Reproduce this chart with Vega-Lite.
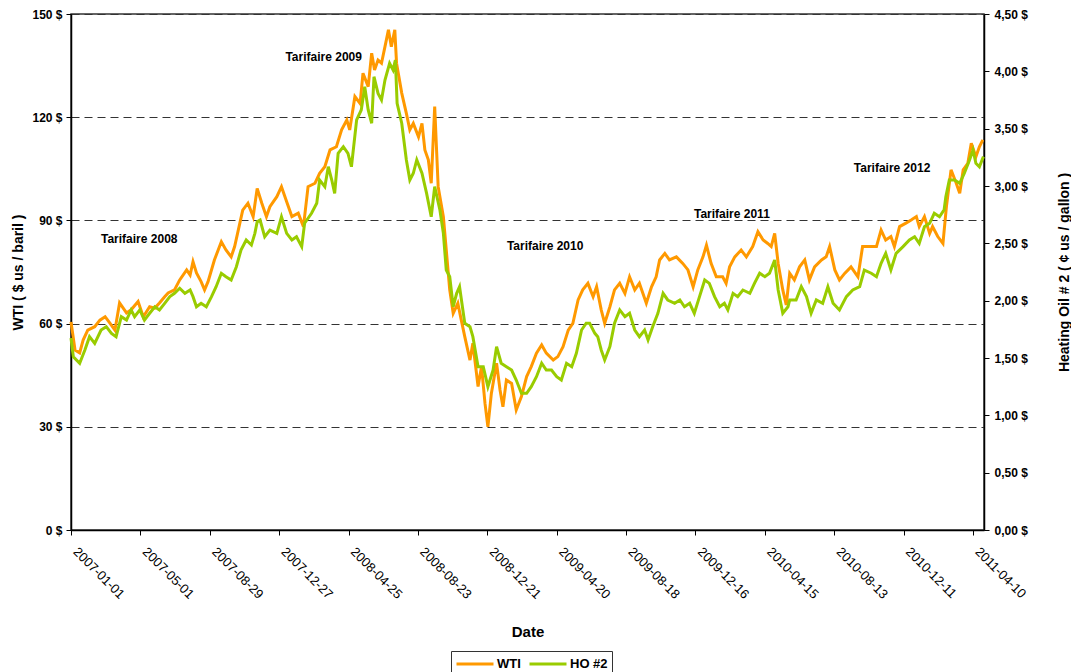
{
  "$schema": "https://vega.github.io/schema/vega-lite/v6.json",
  "width": 913,
  "height": 516,
  "autosize": "none",
  "padding": {"left": 71, "top": 14, "right": 87, "bottom": 142},
  "background": "white",
  "config": {
    "font": "Liberation Sans",
    "view": {"stroke": "#333333", "strokeWidth": 1.5}
  },
  "datasets": {
    "wti": [
      {"d":"2007-01-01","v":60.5},{"d":"2007-01-08","v":52.3},{"d":"2007-01-16","v":51.5},{"d":"2007-01-22","v":55.2},{"d":"2007-01-30","v":58.1},
      {"d":"2007-02-11","v":59.1},{"d":"2007-02-20","v":61.0},{"d":"2007-03-01","v":62.0},{"d":"2007-03-09","v":60.2},{"d":"2007-03-18","v":58.1},
      {"d":"2007-03-26","v":66.0},{"d":"2007-04-07","v":63.1},{"d":"2007-04-15","v":64.0},{"d":"2007-04-27","v":66.4},{"d":"2007-05-06","v":62.0},
      {"d":"2007-05-17","v":64.9},{"d":"2007-05-26","v":64.5},{"d":"2007-06-03","v":66.0},{"d":"2007-06-12","v":67.8},{"d":"2007-06-18","v":68.9},
      {"d":"2007-06-29","v":69.8},{"d":"2007-07-08","v":72.7},{"d":"2007-07-20","v":75.6},{"d":"2007-07-26","v":74.1},{"d":"2007-07-31","v":78.0},
      {"d":"2007-08-06","v":74.7},{"d":"2007-08-14","v":72.2},{"d":"2007-08-20","v":69.8},{"d":"2007-08-26","v":72.2},{"d":"2007-09-06","v":78.5},
      {"d":"2007-09-18","v":83.8},{"d":"2007-09-26","v":81.4},{"d":"2007-10-05","v":79.4},{"d":"2007-10-11","v":82.4},{"d":"2007-10-20","v":89.2},
      {"d":"2007-10-25","v":93.0},{"d":"2007-11-03","v":95.0},{"d":"2007-11-12","v":91.1},{"d":"2007-11-19","v":99.3},{"d":"2007-11-27","v":95.0},
      {"d":"2007-12-05","v":91.1},{"d":"2007-12-11","v":94.0},{"d":"2007-12-23","v":96.9},{"d":"2007-12-31","v":99.8},{"d":"2008-01-09","v":95.4},
      {"d":"2008-01-18","v":91.1},{"d":"2008-01-29","v":92.1},{"d":"2008-02-07","v":88.2},{"d":"2008-02-15","v":99.8},{"d":"2008-02-27","v":100.8},
      {"d":"2008-03-06","v":103.7},{"d":"2008-03-15","v":105.6},{"d":"2008-03-24","v":110.5},{"d":"2008-04-04","v":111.4},{"d":"2008-04-13","v":116.3},
      {"d":"2008-04-22","v":119.2},{"d":"2008-04-27","v":116.3},{"d":"2008-05-06","v":126.0},{"d":"2008-05-15","v":124.0},{"d":"2008-05-20","v":132.8},
      {"d":"2008-05-29","v":128.9},{"d":"2008-06-04","v":138.6},{"d":"2008-06-09","v":133.7},{"d":"2008-06-15","v":136.6},{"d":"2008-06-21","v":135.7},
      {"d":"2008-06-27","v":140.5},{"d":"2008-07-03","v":145.4},{"d":"2008-07-08","v":140.5},{"d":"2008-07-14","v":145.4},{"d":"2008-07-17","v":135.7},
      {"d":"2008-07-26","v":127.0},{"d":"2008-08-03","v":121.1},{"d":"2008-08-09","v":116.3},{"d":"2008-08-15","v":118.2},{"d":"2008-08-24","v":114.3},
      {"d":"2008-08-30","v":118.2},{"d":"2008-09-04","v":110.5},{"d":"2008-09-10","v":107.6},{"d":"2008-09-15","v":100.8},{"d":"2008-09-21","v":123.1},
      {"d":"2008-09-24","v":111.4},{"d":"2008-09-27","v":99.8},{"d":"2008-10-06","v":91.1},{"d":"2008-10-11","v":81.4},{"d":"2008-10-17","v":69.8},
      {"d":"2008-10-23","v":63.0},{"d":"2008-10-31","v":65.9},{"d":"2008-11-06","v":61.0},{"d":"2008-11-12","v":56.2},{"d":"2008-11-21","v":49.4},
      {"d":"2008-11-26","v":54.3},{"d":"2008-12-05","v":41.7},{"d":"2008-12-11","v":47.5},{"d":"2008-12-17","v":36.8},{"d":"2008-12-22","v":30.0},
      {"d":"2008-12-28","v":39.7},{"d":"2009-01-06","v":48.5},{"d":"2009-01-12","v":40.7},{"d":"2009-01-17","v":35.8},{"d":"2009-01-23","v":43.6},
      {"d":"2009-02-01","v":42.6},{"d":"2009-02-09","v":34.9},{"d":"2009-02-18","v":38.8},{"d":"2009-02-27","v":44.6},{"d":"2009-03-07","v":47.5},
      {"d":"2009-03-16","v":51.4},{"d":"2009-03-25","v":53.8},{"d":"2009-04-02","v":51.4},{"d":"2009-04-14","v":49.4},{"d":"2009-04-22","v":50.4},
      {"d":"2009-05-01","v":53.3},{"d":"2009-05-10","v":58.1},{"d":"2009-05-18","v":60.1},{"d":"2009-05-27","v":66.9},{"d":"2009-06-04","v":69.8},
      {"d":"2009-06-13","v":71.7},{"d":"2009-06-22","v":67.8},{"d":"2009-06-28","v":70.7},{"d":"2009-07-06","v":64.0},{"d":"2009-07-12","v":60.1},
      {"d":"2009-07-21","v":64.9},{"d":"2009-07-29","v":69.8},{"d":"2009-08-07","v":71.7},{"d":"2009-08-16","v":68.8},{"d":"2009-08-24","v":73.6},
      {"d":"2009-09-02","v":69.8},{"d":"2009-09-10","v":71.7},{"d":"2009-09-22","v":65.9},{"d":"2009-10-01","v":70.7},{"d":"2009-10-09","v":73.6},
      {"d":"2009-10-15","v":78.5},{"d":"2009-10-24","v":80.4},{"d":"2009-11-01","v":78.5},{"d":"2009-11-13","v":79.4},{"d":"2009-11-24","v":77.5},
      {"d":"2009-12-03","v":75.6},{"d":"2009-12-12","v":70.7},{"d":"2009-12-20","v":75.6},{"d":"2009-12-29","v":79.4},{"d":"2010-01-04","v":82.8},
      {"d":"2010-01-12","v":77.5},{"d":"2010-01-21","v":73.6},{"d":"2010-02-01","v":73.6},{"d":"2010-02-07","v":71.7},{"d":"2010-02-13","v":76.5},
      {"d":"2010-02-22","v":79.4},{"d":"2010-03-05","v":81.4},{"d":"2010-03-14","v":79.4},{"d":"2010-03-25","v":82.4},{"d":"2010-04-03","v":86.7},
      {"d":"2010-04-12","v":84.3},{"d":"2010-04-20","v":83.3},{"d":"2010-04-26","v":82.4},{"d":"2010-05-02","v":86.2},{"d":"2010-05-08","v":77.5},
      {"d":"2010-05-16","v":69.8},{"d":"2010-05-22","v":65.4},{"d":"2010-05-28","v":74.6},{"d":"2010-06-05","v":72.7},{"d":"2010-06-14","v":76.5},
      {"d":"2010-06-23","v":78.5},{"d":"2010-07-01","v":72.7},{"d":"2010-07-10","v":76.5},{"d":"2010-07-22","v":78.5},{"d":"2010-07-30","v":79.4},
      {"d":"2010-08-05","v":82.4},{"d":"2010-08-14","v":75.6},{"d":"2010-08-22","v":72.7},{"d":"2010-08-31","v":74.6},{"d":"2010-09-11","v":76.5},
      {"d":"2010-09-23","v":73.6},{"d":"2010-10-01","v":82.4},{"d":"2010-10-13","v":82.4},{"d":"2010-10-25","v":82.4},{"d":"2010-11-02","v":87.2},
      {"d":"2010-11-10","v":84.3},{"d":"2010-11-19","v":85.3},{"d":"2010-11-25","v":82.4},{"d":"2010-12-04","v":88.2},{"d":"2010-12-15","v":89.2},
      {"d":"2010-12-24","v":90.1},{"d":"2011-01-02","v":91.1},{"d":"2011-01-07","v":88.2},{"d":"2011-01-16","v":91.1},{"d":"2011-01-25","v":86.2},
      {"d":"2011-01-30","v":88.2},{"d":"2011-02-08","v":85.3},{"d":"2011-02-17","v":83.3},{"d":"2011-02-23","v":94.0},{"d":"2011-03-03","v":104.7},
      {"d":"2011-03-12","v":100.8},{"d":"2011-03-18","v":97.9},{"d":"2011-03-24","v":104.7},{"d":"2011-04-01","v":106.6},{"d":"2011-04-07","v":112.4},
      {"d":"2011-04-15","v":108.5},{"d":"2011-04-21","v":111.4},{"d":"2011-04-27","v":113.4}
    ],
    "ho": [
      {"d":"2007-01-01","v":1.674},{"d":"2007-01-05","v":1.511},{"d":"2007-01-16","v":1.454},{"d":"2007-01-25","v":1.570},{"d":"2007-02-02","v":1.686},
      {"d":"2007-02-11","v":1.628},{"d":"2007-02-22","v":1.744},{"d":"2007-03-03","v":1.773},{"d":"2007-03-12","v":1.715},{"d":"2007-03-20","v":1.686},
      {"d":"2007-03-29","v":1.860},{"d":"2007-04-07","v":1.831},{"d":"2007-04-15","v":1.919},{"d":"2007-04-21","v":1.860},{"d":"2007-04-30","v":1.919},
      {"d":"2007-05-08","v":1.831},{"d":"2007-05-17","v":1.890},{"d":"2007-05-26","v":1.947},{"d":"2007-06-03","v":1.919},{"d":"2007-06-12","v":1.977},
      {"d":"2007-06-21","v":2.035},{"d":"2007-06-29","v":2.064},{"d":"2007-07-08","v":2.108},{"d":"2007-07-17","v":2.064},{"d":"2007-07-26","v":2.093},
      {"d":"2007-07-31","v":2.035},{"d":"2007-08-06","v":1.947},{"d":"2007-08-14","v":1.977},{"d":"2007-08-23","v":1.947},{"d":"2007-09-01","v":2.035},
      {"d":"2007-09-09","v":2.122},{"d":"2007-09-18","v":2.239},{"d":"2007-09-26","v":2.209},{"d":"2007-10-05","v":2.180},{"d":"2007-10-14","v":2.296},
      {"d":"2007-10-22","v":2.442},{"d":"2007-10-31","v":2.529},{"d":"2007-11-09","v":2.485},{"d":"2007-11-15","v":2.587},{"d":"2007-11-19","v":2.689},
      {"d":"2007-11-24","v":2.703},{"d":"2007-12-02","v":2.558},{"d":"2007-12-11","v":2.616},{"d":"2007-12-23","v":2.587},{"d":"2007-12-31","v":2.732},
      {"d":"2008-01-09","v":2.587},{"d":"2008-01-18","v":2.529},{"d":"2008-01-26","v":2.558},{"d":"2008-02-04","v":2.471},{"d":"2008-02-09","v":2.675},
      {"d":"2008-02-21","v":2.762},{"d":"2008-03-01","v":2.849},{"d":"2008-03-06","v":3.052},{"d":"2008-03-15","v":2.994},{"d":"2008-03-21","v":3.168},
      {"d":"2008-03-27","v":3.052},{"d":"2008-04-01","v":2.936},{"d":"2008-04-07","v":3.285},{"d":"2008-04-16","v":3.343},{"d":"2008-04-24","v":3.285},
      {"d":"2008-04-30","v":3.168},{"d":"2008-05-09","v":3.576},{"d":"2008-05-17","v":3.663},{"d":"2008-05-23","v":3.866},{"d":"2008-05-29","v":3.663},
      {"d":"2008-06-04","v":3.547},{"d":"2008-06-08","v":3.953},{"d":"2008-06-15","v":3.808},{"d":"2008-06-21","v":3.750},{"d":"2008-06-27","v":3.924},
      {"d":"2008-07-05","v":4.070},{"d":"2008-07-11","v":4.012},{"d":"2008-07-15","v":4.099},{"d":"2008-07-18","v":3.721},{"d":"2008-07-26","v":3.547},
      {"d":"2008-08-03","v":3.227},{"d":"2008-08-09","v":3.052},{"d":"2008-08-15","v":3.111},{"d":"2008-08-21","v":3.227},{"d":"2008-08-30","v":3.111},
      {"d":"2008-09-07","v":2.936},{"d":"2008-09-15","v":2.732},{"d":"2008-09-21","v":2.994},{"d":"2008-09-30","v":2.791},{"d":"2008-10-06","v":2.587},
      {"d":"2008-10-11","v":2.267},{"d":"2008-10-17","v":2.209},{"d":"2008-10-23","v":1.947},{"d":"2008-10-29","v":2.064},{"d":"2008-11-03","v":2.122},
      {"d":"2008-11-12","v":1.803},{"d":"2008-11-21","v":1.773},{"d":"2008-11-26","v":1.686},{"d":"2008-12-05","v":1.424},{"d":"2008-12-14","v":1.424},
      {"d":"2008-12-22","v":1.250},{"d":"2008-12-31","v":1.395},{"d":"2009-01-06","v":1.599},{"d":"2009-01-14","v":1.454},{"d":"2009-01-23","v":1.424},
      {"d":"2009-02-01","v":1.395},{"d":"2009-02-09","v":1.308},{"d":"2009-02-18","v":1.192},{"d":"2009-02-27","v":1.192},{"d":"2009-03-07","v":1.250},
      {"d":"2009-03-16","v":1.337},{"d":"2009-03-25","v":1.454},{"d":"2009-04-02","v":1.395},{"d":"2009-04-11","v":1.395},{"d":"2009-04-20","v":1.337},
      {"d":"2009-04-28","v":1.308},{"d":"2009-05-07","v":1.454},{"d":"2009-05-16","v":1.424},{"d":"2009-05-24","v":1.541},{"d":"2009-06-02","v":1.744},
      {"d":"2009-06-10","v":1.803},{"d":"2009-06-16","v":1.803},{"d":"2009-06-25","v":1.715},{"d":"2009-06-30","v":1.686},{"d":"2009-07-06","v":1.570},
      {"d":"2009-07-12","v":1.483},{"d":"2009-07-21","v":1.599},{"d":"2009-07-29","v":1.803},{"d":"2009-08-07","v":1.919},{"d":"2009-08-16","v":1.860},
      {"d":"2009-08-24","v":1.890},{"d":"2009-09-02","v":1.744},{"d":"2009-09-10","v":1.686},{"d":"2009-09-19","v":1.744},{"d":"2009-09-25","v":1.657},
      {"d":"2009-10-03","v":1.773},{"d":"2009-10-12","v":1.890},{"d":"2009-10-21","v":2.064},{"d":"2009-10-29","v":2.006},{"d":"2009-11-10","v":1.977},
      {"d":"2009-11-19","v":2.006},{"d":"2009-11-27","v":1.947},{"d":"2009-12-06","v":1.977},{"d":"2009-12-14","v":1.890},{"d":"2009-12-23","v":2.035},
      {"d":"2010-01-01","v":2.180},{"d":"2010-01-09","v":2.151},{"d":"2010-01-18","v":2.035},{"d":"2010-01-27","v":1.947},{"d":"2010-02-04","v":1.977},
      {"d":"2010-02-10","v":1.919},{"d":"2010-02-19","v":2.064},{"d":"2010-02-27","v":2.035},{"d":"2010-03-08","v":2.093},{"d":"2010-03-20","v":2.064},
      {"d":"2010-03-28","v":2.151},{"d":"2010-04-06","v":2.239},{"d":"2010-04-15","v":2.209},{"d":"2010-04-23","v":2.239},{"d":"2010-05-02","v":2.355},
      {"d":"2010-05-08","v":2.093},{"d":"2010-05-16","v":1.890},{"d":"2010-05-25","v":1.947},{"d":"2010-05-28","v":2.006},{"d":"2010-06-08","v":2.006},
      {"d":"2010-06-17","v":2.122},{"d":"2010-06-26","v":2.035},{"d":"2010-07-04","v":1.890},{"d":"2010-07-13","v":2.006},{"d":"2010-07-24","v":1.977},
      {"d":"2010-08-02","v":2.122},{"d":"2010-08-11","v":1.977},{"d":"2010-08-22","v":1.919},{"d":"2010-09-03","v":2.035},{"d":"2010-09-14","v":2.093},
      {"d":"2010-09-26","v":2.122},{"d":"2010-10-04","v":2.267},{"d":"2010-10-16","v":2.239},{"d":"2010-10-25","v":2.209},{"d":"2010-11-02","v":2.326},
      {"d":"2010-11-10","v":2.413},{"d":"2010-11-19","v":2.267},{"d":"2010-11-28","v":2.413},{"d":"2010-12-10","v":2.471},{"d":"2010-12-21","v":2.529},
      {"d":"2010-12-30","v":2.558},{"d":"2011-01-07","v":2.500},{"d":"2011-01-16","v":2.645},{"d":"2011-01-25","v":2.675},{"d":"2011-02-02","v":2.762},
      {"d":"2011-02-11","v":2.732},{"d":"2011-02-19","v":2.791},{"d":"2011-02-22","v":2.907},{"d":"2011-02-28","v":3.052},{"d":"2011-03-09","v":3.052},
      {"d":"2011-03-18","v":3.024},{"d":"2011-03-26","v":3.111},{"d":"2011-04-04","v":3.227},{"d":"2011-04-10","v":3.314},{"d":"2011-04-15","v":3.198},
      {"d":"2011-04-21","v":3.168},{"d":"2011-04-28","v":3.256}
    ],
    "notes": [
      {"d":"2007-04-29","v":84.6,"t":"Tarifaire 2008"},
      {"d":"2008-03-13","v":137.5,"t":"Tarifaire 2009"},
      {"d":"2009-03-31","v":82.6,"t":"Tarifaire 2010"},
      {"d":"2010-02-17","v":91.9,"t":"Tarifaire 2011"},
      {"d":"2010-11-21","v":105.2,"t":"Tarifaire 2012"}
    ]
  },
  "encoding": {
    "x": {
      "field": "d",
      "type": "temporal",
      "scale": {
        "type": "utc",
        "domain": [{"year": 2007, "month": 1, "date": 1, "utc": true}, {"year": 2011, "month": 4, "date": 29, "utc": true}]
      },
      "axis": {
        "values": [
          {"year":2007,"month":1,"date":1,"utc":true},
          {"year":2007,"month":5,"date":1,"utc":true},
          {"year":2007,"month":8,"date":29,"utc":true},
          {"year":2007,"month":12,"date":27,"utc":true},
          {"year":2008,"month":4,"date":25,"utc":true},
          {"year":2008,"month":8,"date":23,"utc":true},
          {"year":2008,"month":12,"date":21,"utc":true},
          {"year":2009,"month":4,"date":20,"utc":true},
          {"year":2009,"month":8,"date":18,"utc":true},
          {"year":2009,"month":12,"date":16,"utc":true},
          {"year":2010,"month":4,"date":15,"utc":true},
          {"year":2010,"month":8,"date":13,"utc":true},
          {"year":2010,"month":12,"date":11,"utc":true},
          {"year":2011,"month":4,"date":10,"utc":true}
        ],
        "format": "%Y-%m-%d",
        "labelAngle": 45,
        "labelAlign": "left",
        "labelBaseline": "top",
        "labelFontSize": 13,
        "labelColor": "black",
        "labelPadding": 10,
        "labelOffset": 8,
        "labelOverlap": false,
        "labelFlush": false,
        "tickColor": "black",
        "tickSize": 5,
        "domainColor": "black",
        "domainWidth": 1.5,
        "grid": false,
        "title": "Date",
        "titleFontSize": 15,
        "titleFontWeight": "bold",
        "titleColor": "black",
        "titlePadding": 23
      }
    }
  },
  "layer": [
    {
      "data": {"name": "wti"},
      "mark": {"type": "line", "strokeWidth": 3},
      "encoding": {
        "y": {
          "field": "v",
          "type": "quantitative",
          "scale": {"domain": [0, 150], "nice": false, "zero": false},
          "axis": {
            "orient": "left",
            "values": [0, 30, 60, 90, 120, 150],
            "labelExpr": "datum.value + ' $'",
            "grid": true,
            "gridDash": [8, 5],
            "gridColor": "#333333",
            "gridWidth": 1,
            "domainColor": "black",
            "domainWidth": 1.5,
            "tickColor": "black",
            "tickSize": 5,
            "labelFontSize": 12,
            "labelFontWeight": "bold",
            "labelColor": "black",
            "labelPadding": 4,
            "title": "WTI ( $ us / baril )",
            "titleFontSize": 14,
            "titleFontWeight": "bold",
            "titleColor": "black",
            "titlePadding": 6
          }
        },
        "color": {
          "datum": "WTI",
          "type": "nominal",
          "scale": {"domain": ["WTI", "HO #2"], "range": ["#FF9900", "#99CC00"]},
          "legend": {
            "title": null,
            "orient": "none",
            "legendX": 380,
            "legendY": 637,
            "direction": "horizontal",
            "strokeColor": "#333333",
            "fillColor": "white",
            "padding": 4,
            "clipHeight": 18,
            "symbolType": "stroke",
            "symbolSize": 1369,
            "symbolStrokeWidth": 3,
            "labelFontSize": 13,
            "labelFontWeight": "bold",
            "labelColor": "black",
            "labelOffset": 2,
            "columnPadding": 7
          }
        }
      }
    },
    {
      "data": {"name": "ho"},
      "mark": {"type": "line", "strokeWidth": 3},
      "encoding": {
        "y": {
          "field": "v",
          "type": "quantitative",
          "scale": {"domain": [0, 4.5], "nice": false, "zero": false},
          "axis": {
            "orient": "right",
            "values": [0, 0.5, 1, 1.5, 2, 2.5, 3, 3.5, 4, 4.5],
            "labelExpr": "replace(format(datum.value, '.2f'), '.', ',') + ' $'",
            "grid": false,
            "domainColor": "black",
            "domainWidth": 1.5,
            "tickColor": "black",
            "tickSize": 5,
            "labelFontSize": 12,
            "labelFontWeight": "bold",
            "labelColor": "black",
            "labelPadding": 5,
            "title": "Heating Oil # 2 ( ¢ us / gallon )",
            "titleAngle": 270,
            "titleFontSize": 14,
            "titleFontWeight": "bold",
            "titleColor": "black",
            "titlePadding": 44
          }
        },
        "color": {"datum": "HO #2", "type": "nominal"}
      }
    },
    {
      "data": {"name": "notes"},
      "mark": {"type": "text", "fontWeight": "bold", "fontSize": 12, "color": "black", "align": "center", "baseline": "middle"},
      "encoding": {
        "y": {"field": "v", "type": "quantitative", "scale": {"domain": [0, 150], "nice": false, "zero": false}, "axis": null},
        "text": {"field": "t"}
      }
    }
  ],
  "resolve": {"scale": {"y": "independent"}}
}
